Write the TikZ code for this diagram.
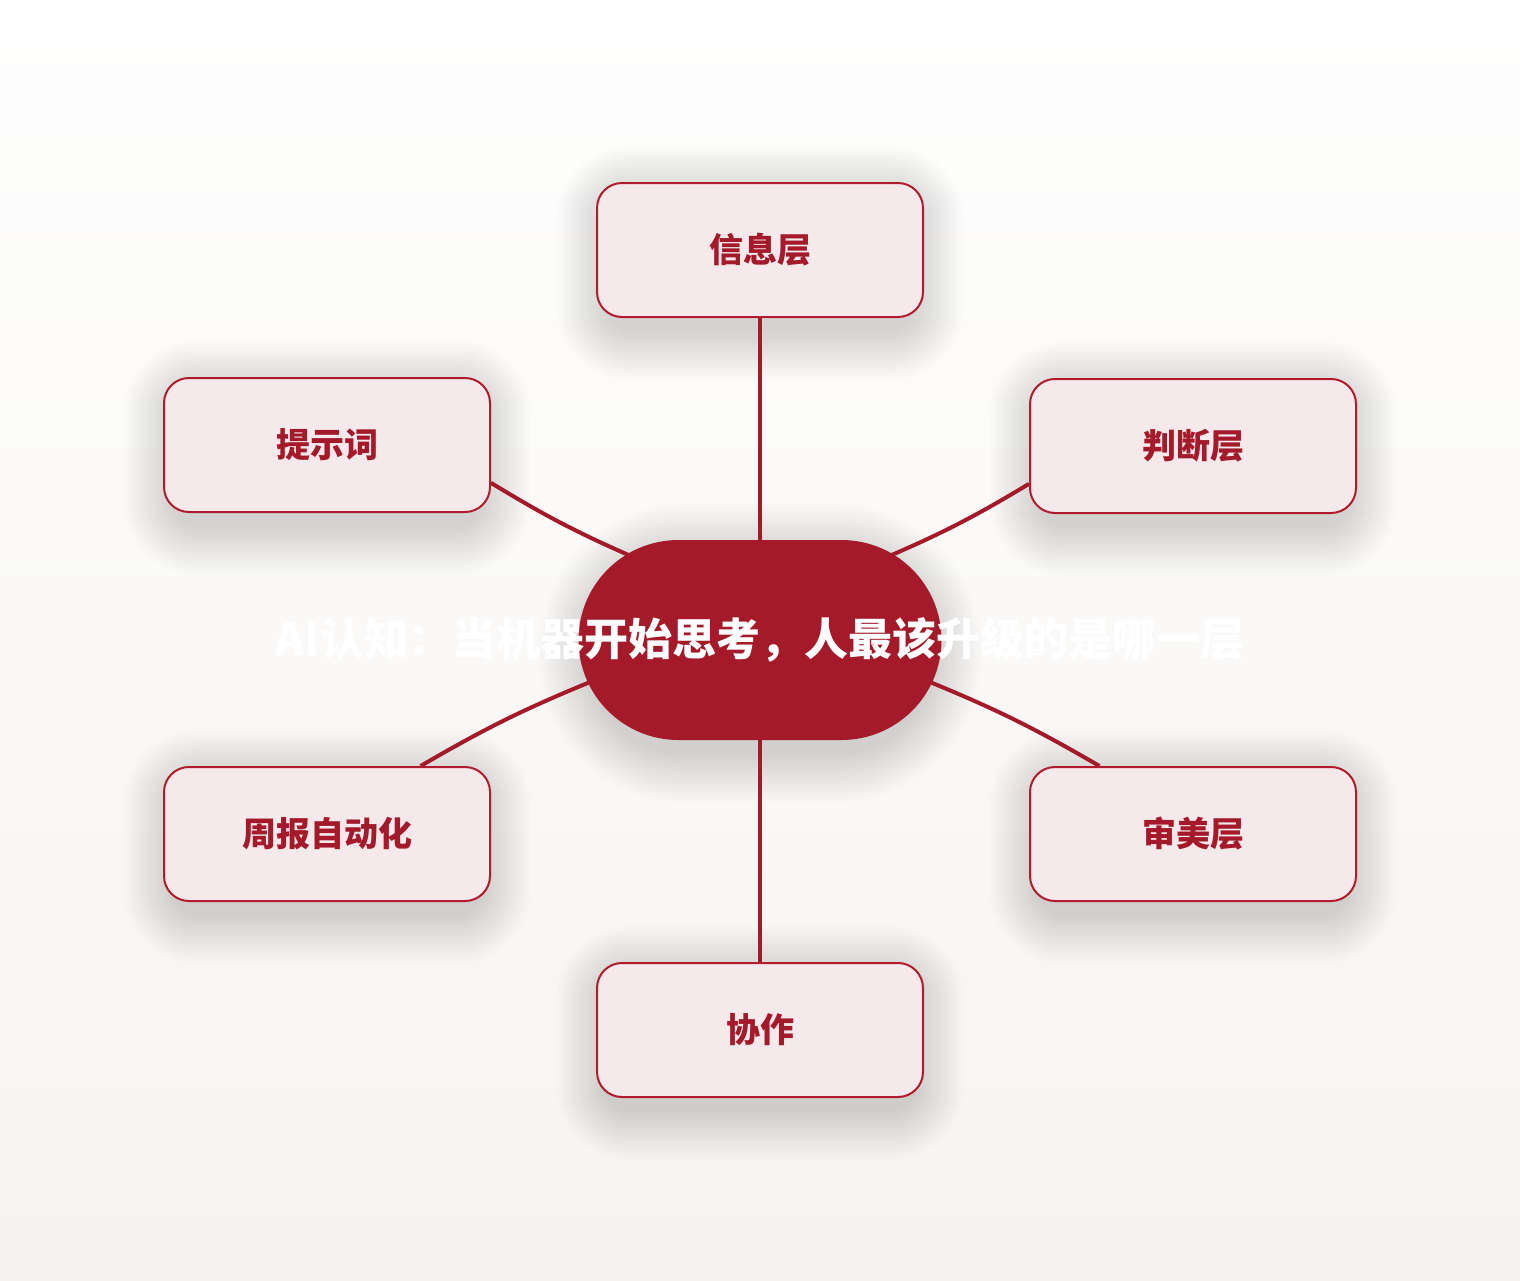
\documentclass[tikz,border=0pt]{standalone}
\usepackage{fontspec}
\newfontfamily\cjk{Noto Sans CJK SC}
\definecolor{dred}{HTML}{A51A2B}
\definecolor{bred}{HTML}{B01B2E}
\definecolor{bfill}{HTML}{F5E9EB}
\definecolor{bgtop}{HTML}{FEFEFE}
\definecolor{bgbot}{HTML}{F6F4F0}
\definecolor{shadowc}{HTML}{3A3530}
\pgfdeclarelayer{bglayer}
\pgfdeclarelayer{shadowlayer}
\pgfdeclarelayer{linklayer}
\pgfsetlayers{bglayer,shadowlayer,linklayer,main}
\newcommand{\softshadow}[2]{%
  \begin{pgfonlayer}{shadowlayer}
  \foreach \i in {1,...,20} {
    \fill[shadowc,opacity=0.0085,rounded corners=#2+2.5*\i]
      ([shift={(-2.5*\i+10,-2.5*\i+14)}]#1.north west) rectangle
      ([shift={(2.5*\i-10,2.5*\i+12)}]#1.south east);
  }
  \end{pgfonlayer}}
\begin{document}
\begin{tikzpicture}[x=1pt,y=-1pt,
  box/.style={draw=bred,line width=2pt,fill=bfill,rounded corners=25pt,
    minimum width=326pt,minimum height=134pt,inner sep=0pt,
    font=\cjk\bfseries\fontsize{34}{34}\selectfont,text=dred},
  hub/.style={fill=dred,rounded corners=100pt,minimum width=363pt,minimum height=200pt,inner sep=0pt},
  hubtext/.style={font=\cjk\bfseries\fontsize{44}{44}\selectfont,text=white,inner sep=0pt},
  link/.style={draw=dred,line width=4pt}]
\useasboundingbox (0,0) rectangle (1520,1280);
\begin{pgfonlayer}{bglayer}
\shade[top color=bgtop,bottom color=bgbot] (0,0) rectangle (1520,1280);
\end{pgfonlayer}
\node[box] (info) at (760,250) {信息层};
\node[box] (tl) at (327,445) {提示词};
\node[box] (jd) at (1193,446) {判断层};
\node[box] (wk) at (327,834) {周报自动化};
\node[box] (ae) at (1193,834) {审美层};
\node[box] (coll) at (760,1030) {协作};
\node[hub] (c) at (760,640) {};
\node[hubtext] (ct) at (c.center) {AI认知：当机器开始思考，人最该升级的是哪一层};
\softshadow{info}{25pt}
\softshadow{tl}{25pt}
\softshadow{jd}{25pt}
\softshadow{wk}{25pt}
\softshadow{ae}{25pt}
\softshadow{coll}{25pt}
\softshadow{c}{96pt}
\begin{pgfonlayer}{linklayer}
\draw[link] (info.south) -- (c.north);
\draw[link] (coll.north) -- (c.south);
\draw[link] (tl.-13) to[bend right=4] ([shift={(-120,-80)}]c.center);
\draw[link] (jd.193) to[bend left=4] ([shift={(120,-80)}]c.center);
\draw[link] (wk.36) to[bend left=4] ([shift={(-165,40)}]c.center);
\draw[link] (ae.144) to[bend right=4] ([shift={(165,40)}]c.center);
\end{pgfonlayer}
\end{tikzpicture}
\end{document}
